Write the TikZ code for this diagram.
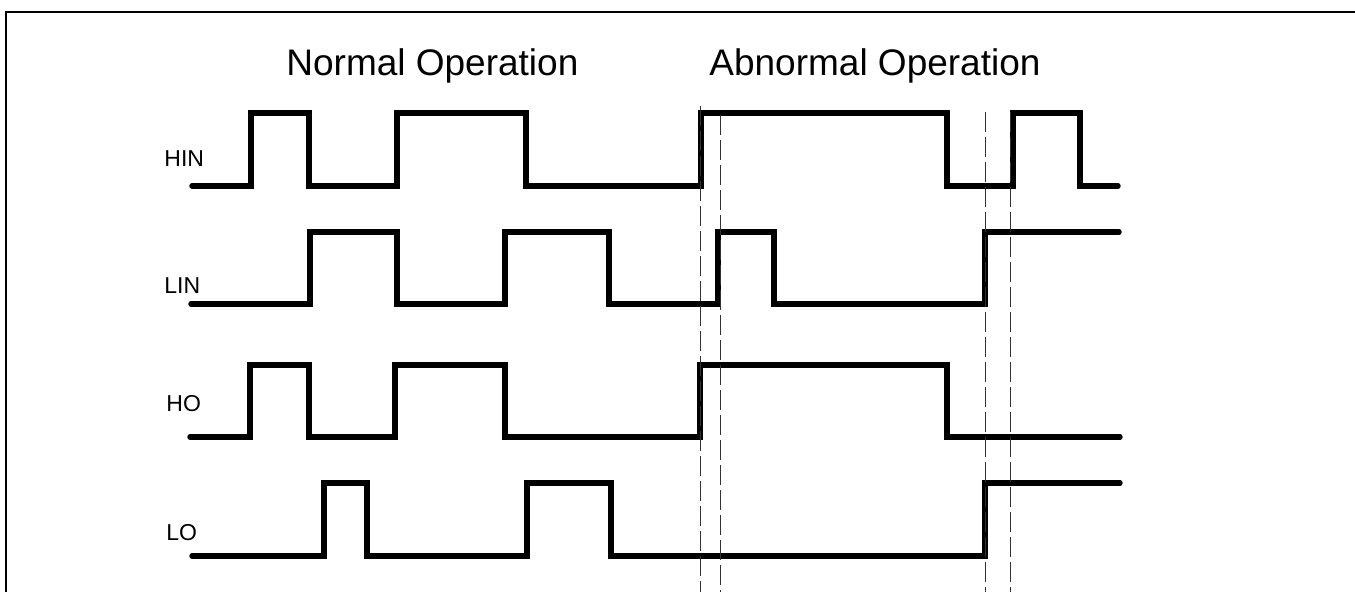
\documentclass[tikz,border=0pt]{standalone}
\usepackage{fontspec}
\setmainfont{Liberation Sans}
\usepackage{tikz}

\tikzset{
    wave/.style={line width=2.7pt, line cap=round, line join=miter},
    guide/.style={line width=0.5pt, black!80, dash pattern=on 10pt off 2.5pt},
    sig/.style={anchor=base west, inner sep=0pt, font=\fontsize{11.5}{12}\selectfont},
    title/.style={anchor=base west, inner sep=0pt, font=\fontsize{18.5}{20}\selectfont},
}

\begin{document}
\begin{tikzpicture}[x=0.5pt, y=-0.5pt]
    \useasboundingbox (0,0) rectangle (1355,592);
    % Frame
    \draw[line width=1pt] (6,600) -- (6,12) -- (1360,12);

    % Titles
    \node[title] (normal) at (286,76) {Normal Operation};
    \node[title] (abnormal) at (709,76) {Abnormal Operation};

    % HIN
    \node[sig] (hin) at (164,167) {HIN};
    \draw[wave] (192,186) -| (251,113) -| (309,186) -| (397,113) -| (526,186) -| (701,113) -| (947,186) -| (1013,113) -| (1080,186) -- (1118,186);

    % LIN
    \node[sig] (lin) at (164,294) {LIN};
    \draw[wave] (191,304) -| (310,232) -| (397,304) -| (505,232) -| (609,304) -| (718,232) -| (774,304) -| (985,232) -- (1119,232);

    % HO
    \node[sig] (ho) at (166,412) {HO};
    \draw[wave] (190,437) -| (250,365) -| (309,437) -| (395,365) -| (505,437) -| (700,365) -| (947,437) -- (1120,437);

    % LO
    \node[sig] (lo) at (166,541) {LO};
    \draw[wave] (192,556) -| (324,483) -| (367,556) -| (527,483) -| (611,556) -| (985,483) -- (1120,483);

    % Dead-time guides
    \foreach \gx/\gy in {700/106, 720/115, 985/112, 1010/112}
        \draw[guide] (\gx,\gy) -- (\gx,592);
\end{tikzpicture}
\end{document}
